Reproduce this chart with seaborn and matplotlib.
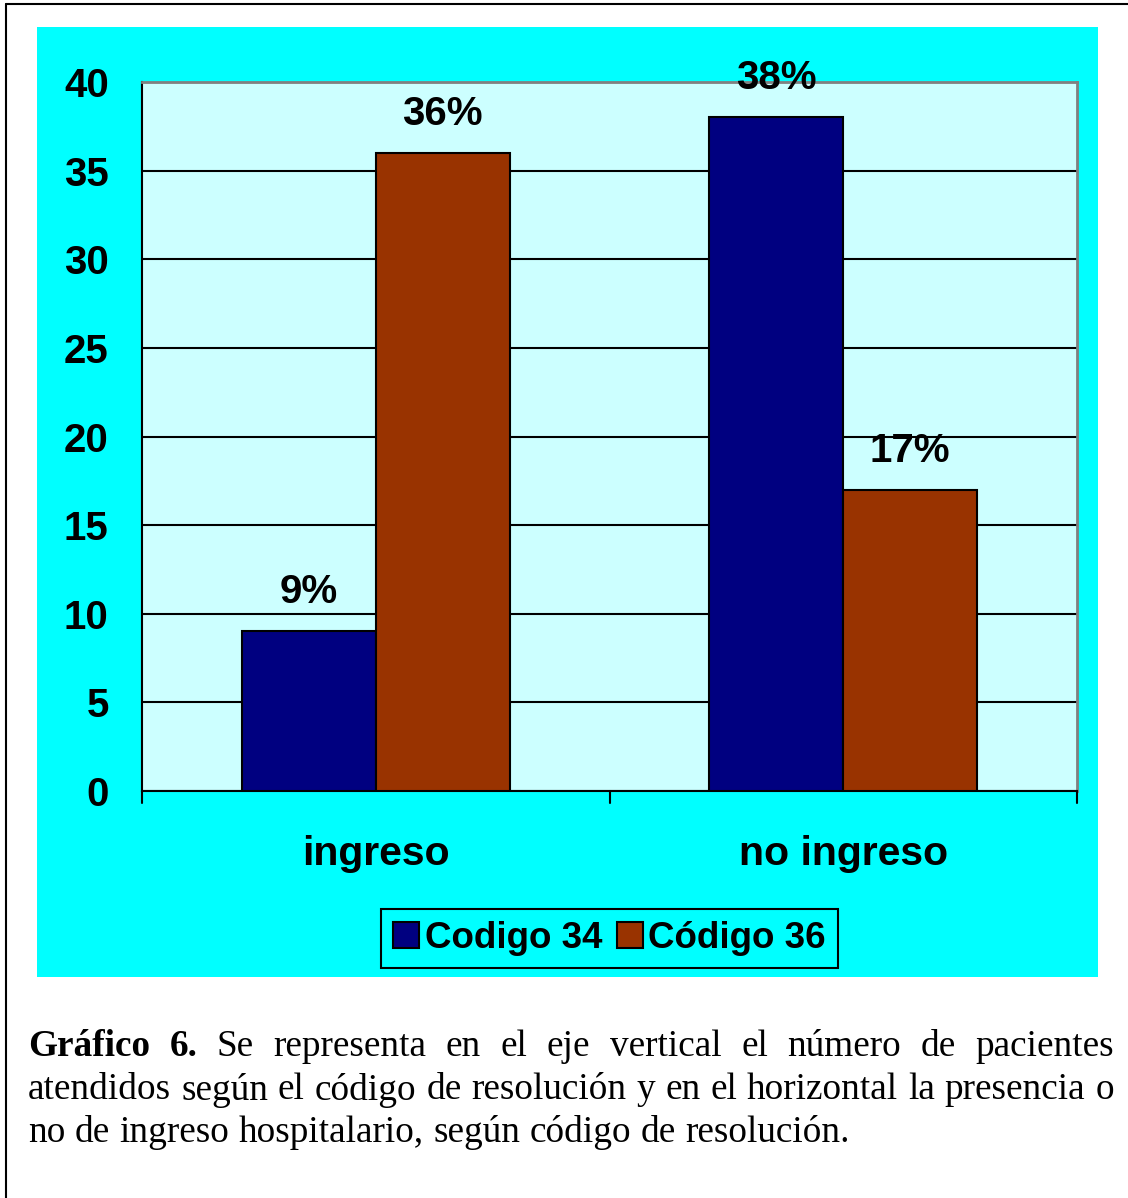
import pandas as pd
import matplotlib
matplotlib.use('Agg')
import matplotlib.pyplot as plt
import seaborn as sns
from matplotlib.patches import Rectangle

categories = ['ingreso', 'no ingreso']
series = ['Codigo 34', 'Código 36']
values_34 = [9, 38]
values_36 = [36, 17]
bar_labels_34 = ['9%', '38%']
bar_labels_36 = ['36%', '17%']
yticks = [0, 5, 10, 15, 20, 25, 30, 35, 40]

caption_bold = 'Gráfico 6.'
caption_lines = [
    'Se representa en el eje vertical el número de pacientes',
    'atendidos según el código de resolución y en el horizontal la presencia o',
    'no de ingreso hospitalario, según código de resolución.',
]

df = pd.DataFrame({
    'grupo': categories * 2,
    'codigo': [series[0]] * 2 + [series[1]] * 2,
    'n': values_34 + values_36,
})

sns.set_style('white')
plt.rcParams['font.family'] = ['Liberation Sans', 'DejaVu Sans']
plt.rcParams['text.color'] = 'black'
plt.rcParams['xtick.color'] = 'black'
plt.rcParams['ytick.color'] = 'black'
plt.rcParams['axes.labelcolor'] = 'black'

W, H = 1128, 1198
fig = plt.figure(figsize=(W / 100, H / 100), dpi=100)
fig.patch.set_facecolor('white')

# outer border (left + top) and cyan panel
fig.add_artist(plt.Line2D([6 / W, 6 / W], [0, 1 - 4 / H], color='black', lw=1.5))
fig.add_artist(plt.Line2D([6 / W, 1], [1 - 4 / H, 1 - 4 / H], color='black', lw=1.5))
fig.add_artist(Rectangle((37 / W, 1 - 977 / H), (1098 - 37) / W, (977 - 27) / H,
                         facecolor='#00FFFF', edgecolor='none', zorder=0))

ax = fig.add_axes([142 / W, 1 - 791 / H, (1077 - 142) / W, (791 - 82) / H])
ax.set_facecolor('#CCFFFF')

sns.barplot(data=df, x='grupo', y='n', hue='codigo', order=categories,
            hue_order=series, palette=['#000080', '#993300'],
            width=0.573, edgecolor='black', linewidth=1.5, saturation=1,
            ax=ax, zorder=3)

ax.set_ylim(0, 40)
ax.set_yticks(yticks)
ax.set_xlim(-0.5, 1.5)
ax.yaxis.grid(True, color='black', lw=1.5, zorder=0)
ax.set_axisbelow(True)
ax.set_xlabel('')
ax.set_ylabel('')

for s in ['top', 'right']:
    ax.spines[s].set_color('#808080')
    ax.spines[s].set_linewidth(2)
for s in ['left', 'bottom']:
    ax.spines[s].set_color('black')
    ax.spines[s].set_linewidth(1.5)

ax.tick_params(axis='y', direction='out', length=10, width=1.5, pad=14,
               labelsize=29)
ax.set_yticklabels([str(t) for t in yticks], fontweight='bold')
ax.set_xticks([0, 1])
ax.set_xticklabels(categories, fontweight='bold', fontsize=29.5)
ax.tick_params(axis='x', length=0, pad=32)
# ticks at category boundaries on x-axis
for xb in [-0.5, 0.5, 1.5]:
    ax.plot([xb, xb], [0, -0.7], color='black', lw=1.5, clip_on=False, zorder=5)

for cont, labs in zip(ax.containers, [bar_labels_34, bar_labels_36]):
    ax.bar_label(cont, labels=labs, padding=14.5, fontsize=29, fontweight='bold')

leg = ax.legend(loc='upper center', bbox_to_anchor=(0.5, (791 - 909) / (791 - 82)),
                ncol=2, frameon=True, fancybox=False, edgecolor='black',
                facecolor='#00FFFF', framealpha=1,
                prop={'size': 26.5, 'weight': 'bold'}, handlelength=0.7,
                handleheight=0.7, handletextpad=0.15, columnspacing=0.4,
                borderpad=0.33, borderaxespad=0)
leg.get_frame().set_linewidth(1.5)

# caption, justified by placing word by word
fig.canvas.draw()
renderer = fig.canvas.get_renderer()
left_px, right_px = 28, 1114
line_y = [1047, 1090, 1133]
serif = ['Liberation Serif', 'DejaVu Serif']
fs = 26.8

def word_width(txt, weight='normal'):
    t = fig.text(0, 0, txt, fontsize=fs, family=serif, fontweight=weight)
    w = t.get_window_extent(renderer).width
    t.remove()
    return w

for i, line in enumerate(caption_lines):
    words = line.split(' ')
    weights = ['normal'] * len(words)
    if i == 0:
        words = caption_bold.split(' ') + words
        weights = ['bold'] * 2 + weights
    y = 1 - line_y[i] / H
    widths = [word_width(w, wt) for w, wt in zip(words, weights)]
    justify = i < len(caption_lines) - 1
    if justify:
        gap = (right_px - left_px - sum(widths)) / (len(words) - 1)
    else:
        gap = word_width('a b') - word_width('ab')
    x = left_px
    for w, wt, ww in zip(words, weights, widths):
        fig.text(x / W, y, w, fontsize=fs, family=serif, fontweight=wt,
                 va='center', ha='left')
        x += ww + gap

fig.savefig('out.png', dpi=100)
